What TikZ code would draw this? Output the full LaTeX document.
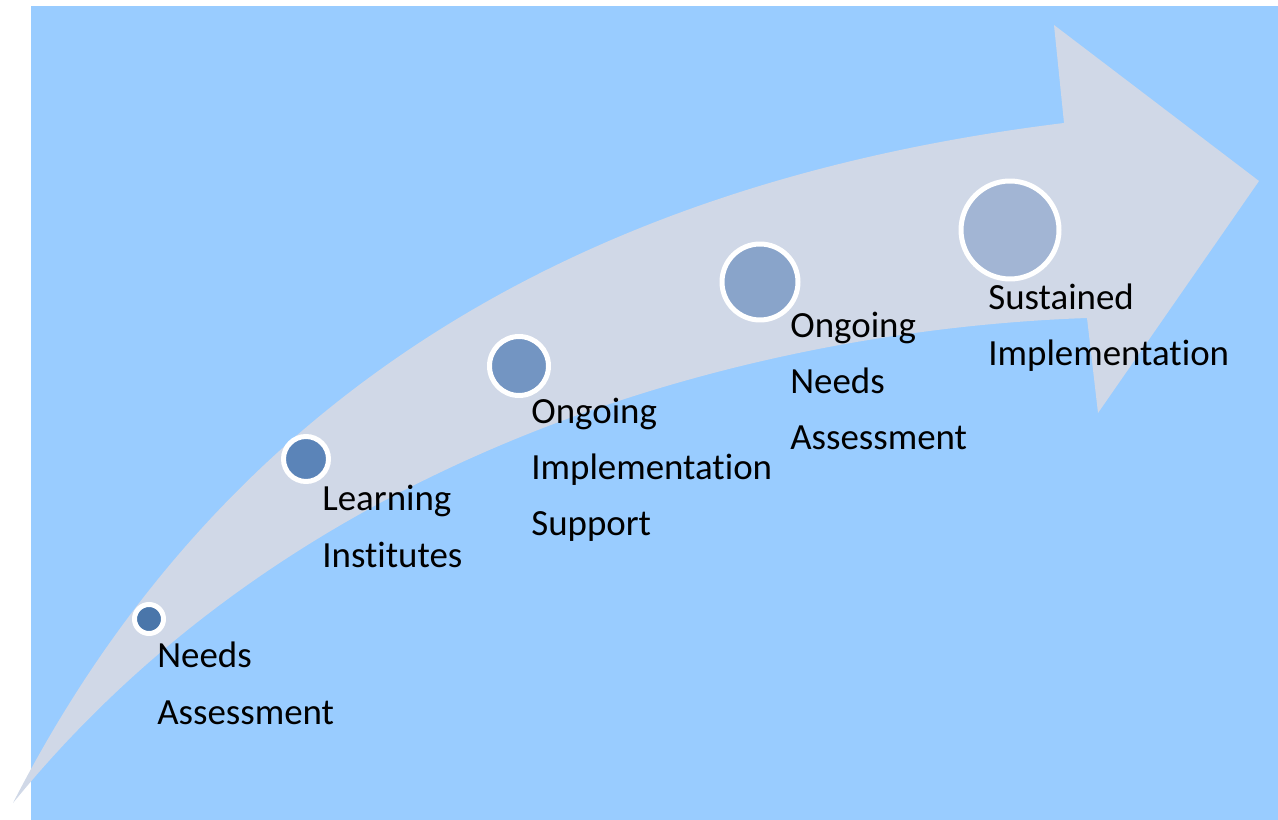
\documentclass[tikz,border=0pt]{standalone}
\usepackage{fontspec}
\setmainfont[Ligatures=NoCommon]{Carlito}

\definecolor{skyback}{HTML}{99CCFF}
\definecolor{arrowgray}{HTML}{D0D8E7}
\definecolor{dotA}{HTML}{4A76AA}
\definecolor{dotB}{HTML}{5B84B8}
\definecolor{dotC}{HTML}{7395C2}
\definecolor{dotD}{HTML}{89A4CA}
\definecolor{dotE}{HTML}{A2B5D4}

\newcommand{\stepfont}{\fontsize{21pt}{32pt}\selectfont}

\tikzset{
  stepdot/.style={circle, draw=white, line width=0.1cm, inner sep=0pt, minimum size=#1},
  steplabel/.style={anchor=base west, align=left, inner sep=0pt, font=\stepfont},
}

\begin{document}
\begin{tikzpicture}[x=0.02cm,y=-0.02cm]
    \useasboundingbox (0,0) rectangle (1278,820);
    \fill[skyback] (31,6) rectangle (1278,820);

    % the big curved arrow
    \fill[arrowgray] (13,803) .. controls (230,380) and (600,180) .. (1064,123)
        -- (1054,25) -- (1259,181) -- (1098,413) -- (1087,318)
        .. controls (750,330) and (300,450) .. (13,803) -- cycle;

    % steps along the arrow
    \node[stepdot=0.58cm, fill=dotA] (needs) at (149,619) {};
    \node[stepdot=0.90cm, fill=dotB] (learning) at (306,459) {};
    \node[stepdot=1.18cm, fill=dotC] (support) at (519,366) {};
    \node[stepdot=1.52cm, fill=dotD] (ongoing) at (760,282) {};
    \node[stepdot=1.96cm, fill=dotE] (sustained) at (1010,230) {};

    % labels, placed at the baseline of their last line
    \node[steplabel] (needstext) at (157,724) {Needs\\Assessment};
    \node[steplabel] (learningtext) at (322,567) {Learning\\Institutes};
    \node[steplabel] (supporttext) at (531,536) {Ongoing\\Implementation\\Support};
    \node[steplabel] (ongoingtext) at (790,450) {Ongoing\\Needs\\Assessment};
    \node[steplabel] (sustainedtext) at (988,366) {Sustained\\Implementation};
\end{tikzpicture}
\end{document}
